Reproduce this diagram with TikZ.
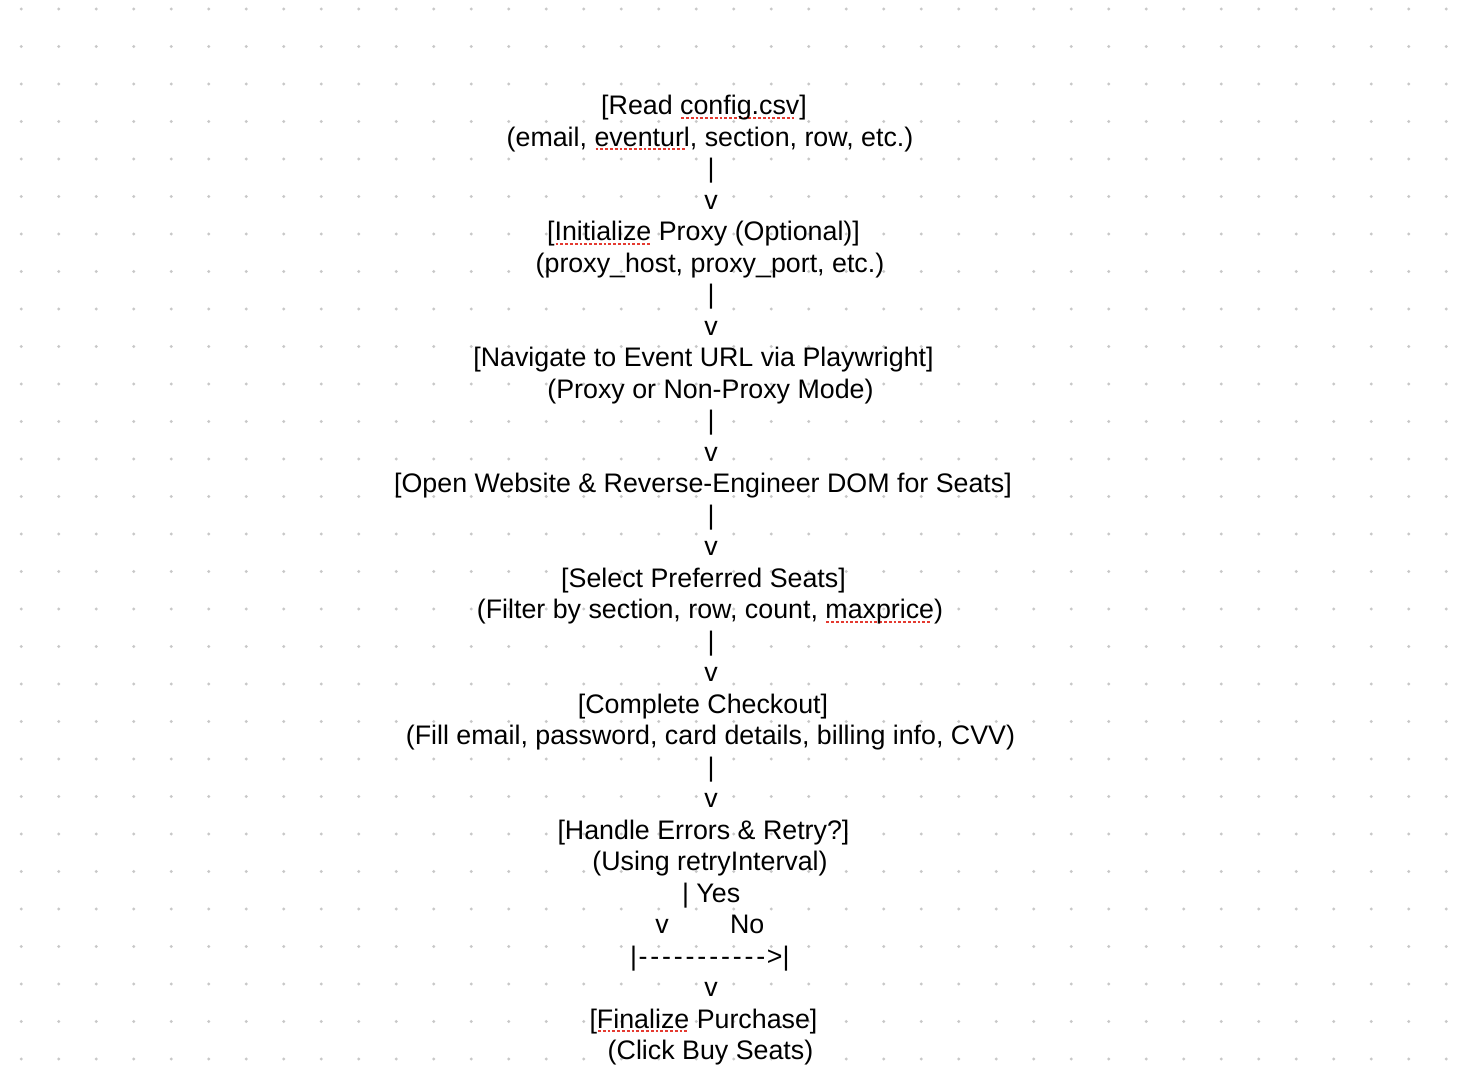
\documentclass[tikz,border=0pt]{standalone}
\usepackage{fontspec}
\setmainfont{Liberation Sans}
\definecolor{dotc}{RGB}{200,200,200}
\definecolor{squig}{RGB}{228,58,48}
\newsavebox{\sqbox}
\newcommand\sqword[1]{\sbox{\sqbox}{#1}\rlap{\raisebox{-2.0pt}{\textcolor{squig}{\leaders\hbox to 2.4pt{\hss\rule{1.4pt}{0.9pt}\hss}\hskip\wd\sqbox}}}\usebox{\sqbox}}
\newcommand\dashrun{\hbox to 65pt{\cleaders\hbox to 5.9pt{\hss-\hss}\hfill}}
\begin{document}
\begin{tikzpicture}[x=0.5pt,y=-0.5pt,
  txt/.style={anchor=base,inner sep=0pt,outer sep=0pt,font=\fontsize{13.4pt}{15.75pt}\selectfont},
  txtw/.style={txt,anchor=base west}]
\useasboundingbox (0,0) rectangle (1458,1092);
\fill[white] (0,0) rectangle (1458,1092);
\foreach \i in {0,...,38} {
  \foreach \j in {0,...,28} {
    \fill[dotc] (21.3+37.5*\i, 9+37.5*\j) circle[radius=0.8pt];
  }
}
\node[txt] (l1) at (704,114.5) {[Read \sqword{config.csv}]};
\node[txt] (l2) at (710,146) {(email, \sqword{eventurl}, section, row, etc.)};
\node[txt] (l3) at (711,177.5) {|};
\node[txt] (l4) at (711,209) {v};
\node[txt] (l5) at (703.5,240.5) {[\sqword{Initialize} Proxy (Optional)]};
\node[txt] (l6) at (710,272) {(proxy\_host, proxy\_port, etc.)};
\node[txt] (l7) at (711,303.5) {|};
\node[txt] (l8) at (711,335) {v};
\node[txt] (l9) at (703.5,366.5) {[Navigate to Event URL via Playwright]};
\node[txt] (l10) at (710.5,398) {(Proxy or Non-Proxy Mode)};
\node[txt] (l11) at (711,429.5) {|};
\node[txt] (l12) at (711,461) {v};
\node[txt] (l13) at (703,492.5) {[Open Website \& Reverse-Engineer DOM for Seats]};
\node[txt] (l14) at (711,524) {|};
\node[txt] (l15) at (711,555.5) {v};
\node[txt] (l16) at (703.5,587) {[Select Preferred Seats]};
\node[txt] (l17) at (710,618.5) {(Filter by section, row, count, \sqword{maxprice})};
\node[txt] (l18) at (711,650) {|};
\node[txt] (l19) at (711,681.5) {v};
\node[txt] (l20) at (703,713) {[Complete Checkout]};
\node[txt] (l21) at (710.5,744.5) {(Fill email, password, card details, billing info, CVV)};
\node[txt] (l22) at (711,776) {|};
\node[txt] (l23) at (711,807.5) {v};
\node[txt] (l24) at (703.5,839) {[Handle Errors \& Retry?]};
\node[txt] (l25) at (710,870.5) {(Using retryInterval)};
\node[txtw] (l26) at (682,902) {| Yes};
\node[txt] (l27a) at (662,933.5) {v};
\node[txtw] (l27b) at (730,933.5) {No};
\node[txtw] (l28) at (630,965) {|\dashrun>|};
\node[txt] (l29) at (711,996.5) {v};
\node[txt] (l30) at (703.5,1028) {[\sqword{Finalize} Purchase]};
\node[txt] (l31) at (710.5,1059.5) {(Click Buy Seats)};
\end{tikzpicture}
\end{document}
